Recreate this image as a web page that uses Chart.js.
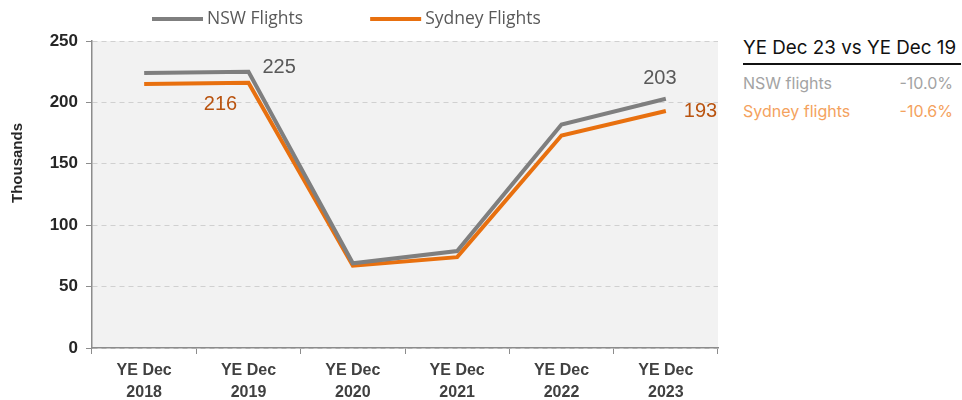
<!DOCTYPE html>
<html>
<head>
<meta charset="utf-8">
<script src="https://cdn.jsdelivr.net/npm/chart.js@4.4.0/dist/chart.umd.min.js"></script>
<style>
  body { margin: 0; background: #fff; }
  #wrap { position: relative; width: 962px; height: 400px; }
  #chartBox { position: absolute; left: 0; top: 0; width: 730px; height: 400px; }
  #panel { position: absolute; left: 743px; top: 36px; width: 218px; font-family: Inter, Roboto, sans-serif; }
  #panel .head { font-size: 18.8px; color: #111; padding-bottom: 4px; border-bottom: 2px solid #111; white-space: nowrap; }
  #panel .row { display: flex; justify-content: space-between; font-size: 16px; margin-top: 8px; padding-right: 8px; }
  #panel .row:first-of-type { margin-top: 11px; }
  .nsw { color: #a3a3a3; }
  .syd { color: #f4a25e; }
</style>
</head>
<body>
<div id="wrap">
  <div id="chartBox"><canvas id="chart"></canvas></div>
  <div id="panel">
    <div class="head">YE Dec 23 vs YE Dec 19</div>
    <div class="row nsw"><span>NSW flights</span><span>-10.0%</span></div>
    <div class="row syd"><span>Sydney flights</span><span>-10.6%</span></div>
  </div>
</div>
<script>
const labels = [['YE Dec', '2018'], ['YE Dec', '2019'], ['YE Dec', '2020'], ['YE Dec', '2021'], ['YE Dec', '2022'], ['YE Dec', '2023']];
const nswFlights = [224, 225, 69, 79, 182, 203];
const sydneyFlights = [215, 216, 67, 74, 173, 193];

// which values get a label, and where the text sits relative to the point
const valueLabels = [
    { ds: 0, i: 1, dx: 14, dy: -4, align: 'left', color: '#595959' },
    { ds: 1, i: 1, dx: -28, dy: 22, align: 'center', color: '#b9530f' },
    { ds: 0, i: 5, dx: -6, dy: -20, align: 'center', color: '#595959' },
    { ds: 1, i: 5, dx: 18, dy: 0, align: 'left', color: '#b9530f' },
];

const extras = {
    id: 'extras',
    beforeDraw(chart) {
        const { ctx, chartArea: a } = chart;
        ctx.save();
        ctx.fillStyle = '#f2f2f2';
        ctx.fillRect(a.left, a.top, a.right - a.left, a.bottom - a.top);
        ctx.restore();
    },
    afterDraw(chart) {
        const ctx = chart.ctx;
        ctx.save();
        // value labels
        ctx.font = '20px "Liberation Sans", Arial, sans-serif';
        ctx.textBaseline = 'middle';
        valueLabels.forEach(l => {
            const p = chart.getDatasetMeta(l.ds).data[l.i];
            const v = chart.data.datasets[l.ds].data[l.i];
            ctx.fillStyle = l.color;
            ctx.textAlign = l.align;
            ctx.fillText(String(v), p.x + l.dx, p.y + l.dy);
        });
        // legend
        ctx.font = '17.5px "Open Sans", sans-serif';
        ctx.textAlign = 'left';
        let x = 152;
        chart.data.datasets.forEach((d, k) => {
            ctx.strokeStyle = d.borderColor;
            ctx.lineWidth = 4;
            ctx.beginPath();
            ctx.moveTo(x, 19);
            ctx.lineTo(x + 51, 19);
            ctx.stroke();
            ctx.fillStyle = '#595959';
            ctx.fillText(d.label, x + 55, 19);
            x += 55 + ctx.measureText(d.label).width + 67;
        });
        // y title
        ctx.translate(18, 163);
        ctx.rotate(-Math.PI / 2);
        ctx.textAlign = 'center';
        ctx.font = 'bold 15px "Liberation Sans", Arial, sans-serif';
        ctx.fillStyle = '#262626';
        ctx.fillText('Thousands', 0, 0);
        ctx.restore();
    }
};

new Chart(document.getElementById('chart'), {
    type: 'line',
    data: {
        labels: labels,
        datasets: [
            {
                label: 'NSW Flights',
                data: nswFlights,
                borderColor: '#7f7f7f',
                borderWidth: 4,
                pointRadius: 0,
                tension: 0,
            },
            {
                label: 'Sydney Flights',
                data: sydneyFlights,
                borderColor: '#e8700f',
                borderWidth: 4,
                pointRadius: 0,
                tension: 0,
            },
        ],
    },
    options: {
        responsive: true,
        maintainAspectRatio: false,
        animation: false,
        layout: { padding: { top: 41, right: 12, left: 0, bottom: 0 } },
        plugins: {
            legend: { display: false },
            tooltip: { enabled: false },
        },
        scales: {
            x: {
                offset: true,
                border: { display: true, color: '#8c8c8c', width: 1.5 },
                grid: { offset: true, drawOnChartArea: false, drawTicks: true, tickLength: 6, color: '#8c8c8c' },
                ticks: {
                    color: '#404040',
                    font: { family: '"Liberation Sans", Arial, sans-serif', size: 16, weight: 'bold', lineHeight: 1.35 },
                    padding: 6,
                    maxRotation: 0,
                },
                afterFit(scale) { scale.height = 52; },
            },
            y: {
                min: 0,
                max: 250,
                border: { display: true, color: '#8c8c8c', width: 1.5, dash: [5, 4] },
                grid: {
                    color: '#d0d0d0',
                    lineWidth: 1,
                    tickLength: 6,
                    tickColor: '#8c8c8c',
                    tickBorderDash: [],
                },
                ticks: {
                    stepSize: 50,
                    color: '#262626',
                    font: { family: '"Liberation Sans", Arial, sans-serif', size: 17, weight: 'bold' },
                    padding: 8,
                },
                afterFit(scale) { scale.width = 92; },
            },
        },
    },
    plugins: [extras],
});
</script>
</body>
</html>
